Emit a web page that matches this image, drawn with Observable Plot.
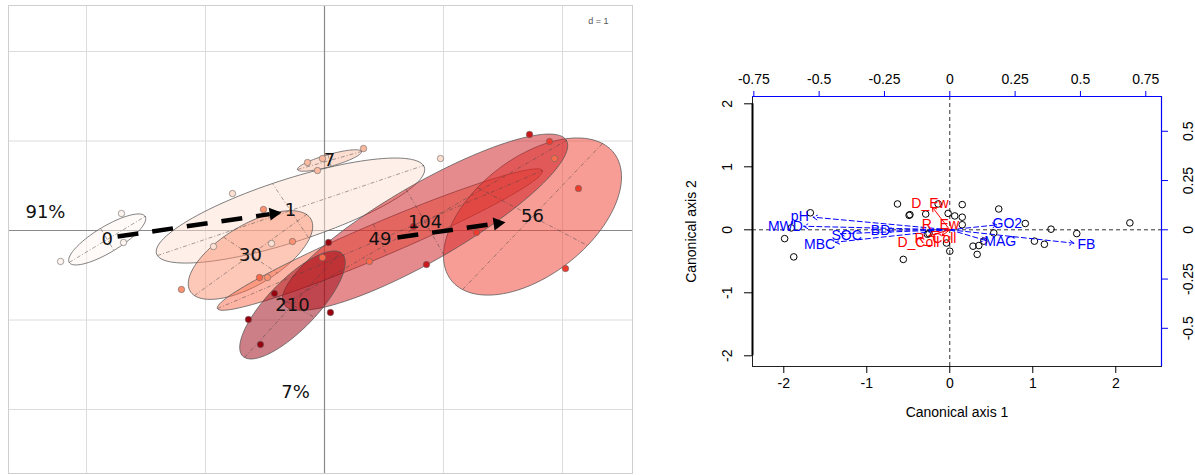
<!DOCTYPE html>
<html><head><meta charset="utf-8">
<script src="https://cdn.jsdelivr.net/npm/d3@7"></script>
<script src="https://cdn.jsdelivr.net/npm/@observablehq/plot@0.6"></script>
<style>
body{margin:0;background:#fff;}
#wrap{position:relative;width:1195px;height:475px;overflow:hidden;background:#fff;}
#wrap svg{position:absolute;top:0;}
</style></head><body><div id="wrap"></div>
<script>
// ---------- LEFT PANEL DATA (ade4 s.class, d = 1) ----------
const groups      = ["0","1","7","30","49","56","104","210"];
const groupColors = ["#fff5f0","#fee0d2","#fcbba1","#fc9272","#fb6a4a","#ef3b2c","#cb181d","#99000d"];
// ellipse centre, half-axis a, half-axis b (data units)
const ellCx = [-1.826,-0.286, 0.042,-0.622, 0.466, 1.748, 0.845,-0.269];
const ellCy = [-0.100, 0.223, 0.782,-0.274,-0.101, 0.156, 0.093,-0.832];
const ellAx = [ 0.319, 1.118, 0.269, 0.471, 1.366, 0.588, 1.188, 0.403];
const ellAy = [ 0.257, 0.503, 0.101, 0.453, 0.771, 0.816, 0.913, 0.587];
const ellBx = [ 0.056,-0.151, 0.013, 0.227, 0.055, 0.462, 0.160, 0.185];
const ellBy = [-0.123, 0.302,-0.065,-0.201,-0.174,-0.324,-0.369,-0.140];
// sample points
const siteGroup = ["0","0","0","1","1","1","1","7","7","7","7","30","30","30","30","49","49","49","49","56","56","56","56","104","104","104","210","210","210","210","210"];
const siteX = [-1.706,-1.689,-2.218,-0.773,0.975,-0.445,-0.933,-0.143,-0.017,-0.059,0.328,-0.513,-0.269,-1.202,-0.479,-0.546,-0.017,0.378,1.933,1.891,2.134,2.025,1.277,1.723,0.857,0.748,0.034,-0.420,0.050,-0.639,-0.538];
const siteY = [0.190,-0.134,-0.346,0.413,0.804,-0.145,-0.179,0.760,0.804,0.670,0.916,0.235,-0.123,-0.659,-0.525,-0.525,-0.302,-0.346,0.804,0.994,0.469,-0.425,-0.022,1.073,-0.380,0.045,-0.134,-0.704,-0.916,-0.994,-1.274];
// trajectory arrows
const arrowFromX = [-1.739, 0.613];
const arrowFromY = [-0.067,-0.078];
const arrowToX   = [-0.311, 1.571];
const arrowToY   = [ 0.212, 0.101];
// axis percentages
const pctText = ["91%","7%"];
const pctX = [-2.345,-0.244];
const pctY = [ 0.201,-1.810];
const gridTicks = [-2,-1,0,1,2];

// ---------- RIGHT PANEL DATA (canonical biplot) ----------
const scoreX = [-1.68,-1.91,-1.99,-1.88,-0.63,-0.49,-0.48,-0.29,-0.27,-0.25,-0.56,-0.14,-0.02,0.06,0.15,0.15,0.15,-0.04,0.00,0.59,0.91,0.53,0.28,0.35,0.41,0.33,1.02,1.14,1.22,1.53,2.17];
const scoreY = [0.27,0.03,-0.14,-0.43,0.41,0.23,0.24,0.25,-0.07,-0.06,-0.47,0.41,0.26,0.22,0.40,0.20,0.08,-0.21,-0.34,0.33,0.10,-0.05,-0.26,-0.25,-0.18,-0.39,-0.18,-0.23,0.01,-0.06,0.11];
const bioNames = ["pH","MWD","SOC","MBC","BD","GO2","MAG","FB"];
const bioTipX  = [-0.523,-0.559,-0.420,-0.438,-0.240,0.180,0.137,0.475];
const bioTipY  = [ 0.064, 0.018,-0.020,-0.063,-0.002,0.025,-0.054,-0.068];
const bioLabX  = [-0.574,-0.629,-0.395,-0.498,-0.265,0.220,0.193,0.523];
const bioLabY  = [ 0.068, 0.018,-0.029,-0.075,-0.004,0.030,-0.059,-0.075];
const envNames = ["D_Ew","R_Ew","D_Coll","R_Coll"];
const envTipX  = [-0.067,-0.020,-0.080,-0.030];
const envTipY  = [ 0.115, 0.005,-0.030,-0.030];
const envLabX  = [-0.076,-0.036,-0.120,-0.055];
const envLabY  = [ 0.132, 0.025,-0.063,-0.046];
const axis1Ticks = [-2,-1,0,1,2];
const axis2Ticks = [-2,-1,0,1,2];
const topTicks = [-0.75,-0.5,-0.25,0,0.25,0.5,0.75];
const rightTicks = [-0.5,-0.25,0,0.25,0.5];

// ================= LEFT PANEL =================
const L = {w:640,h:475,ml:8,mr:8,mt:5,mb:2};
const xDomL = [-2.6555, 2.5882], yDomL = [-2.715, 2.514];
const kx = (L.w-L.ml-L.mr)/(xDomL[1]-xDomL[0]);
const ky = (L.h-L.mt-L.mb)/(yDomL[1]-yDomL[0]);

const ells = groups.map((g,i)=>({g, color:groupColors[i], cx:ellCx[i], cy:ellCy[i], ax:ellAx[i], ay:ellAy[i], bx:ellBx[i], by:ellBy[i]}));
const ellPts = e => d3.range(0,121).map(k=>{const t=2*Math.PI*k/120; return {x:e.cx+e.ax*Math.cos(t)+e.bx*Math.sin(t), y:e.cy+e.ay*Math.cos(t)+e.by*Math.sin(t)};});
const sites = siteX.map((x,i)=>({x, y:siteY[i], color:groupColors[groups.indexOf(siteGroup[i])]}));
const arrows = arrowFromX.map((x,i)=>{
  const dx=arrowToX[i]-x, dy=arrowToY[i]-arrowFromY[i];
  const sx=dx*kx, sy=-dy*ky, len=Math.hypot(sx,sy), head=18;
  const f=head/len;
  return {x1:x, y1:arrowFromY[i], bx:arrowToX[i]-f*dx, by:arrowToY[i]-f*dy,
          rot: Math.atan2(sx, -sy)*180/Math.PI, head};
});
const pcts = pctText.map((t,i)=>({t, x:pctX[i], y:pctY[i]}));
const headShape = {draw(ctx,l,r){ctx.moveTo(-r,0);ctx.lineTo(0,-l);ctx.lineTo(r,0);ctx.closePath();}};

const left = Plot.plot({
  width:L.w, height:L.h, marginLeft:L.ml, marginRight:L.mr, marginTop:L.mt, marginBottom:L.mb,
  x:{domain:xDomL, axis:null}, y:{domain:yDomL, axis:null},
  style:{fontFamily:"DejaVu Sans, sans-serif", background:"#fff"},
  marks:[
    Plot.ruleX(gridTicks, {stroke:"#dcdcdc", strokeWidth:1}),
    Plot.ruleY(gridTicks, {stroke:"#dcdcdc", strokeWidth:1}),
    Plot.ruleX([0], {stroke:"#8a8a8a", strokeWidth:1.2}),
    Plot.ruleY([0], {stroke:"#8a8a8a", strokeWidth:1.2}),
    Plot.frame({stroke:"#cfcfcf"}),
    ...ells.map(e=>Plot.line(ellPts(e), {x:"x", y:"y", curve:"linear-closed", fill:e.color, fillOpacity:0.5, stroke:"#555", strokeOpacity:0.75, strokeWidth:1})),
    Plot.link(ells, {x1:d=>d.cx-d.ax, y1:d=>d.cy-d.ay, x2:d=>d.cx+d.ax, y2:d=>d.cy+d.ay, stroke:"#444", strokeOpacity:0.7, strokeWidth:0.7, strokeDasharray:"4,2,1,2"}),
    Plot.link(ells, {x1:d=>d.cx-d.bx, y1:d=>d.cy-d.by, x2:d=>d.cx+d.bx, y2:d=>d.cy+d.by, stroke:"#444", strokeOpacity:0.7, strokeWidth:0.7, strokeDasharray:"4,2,1,2"}),
    Plot.dot(sites, {x:"x", y:"y", r:3.2, fill:"color", stroke:"#666", strokeWidth:0.6}),
    Plot.text(ells, {x:"cx", y:"cy", text:"g", fontSize:18, fill:"#111"}),
    Plot.text(pcts, {x:"x", y:"y", text:"t", fontSize:18, fill:"#111"}),
    Plot.text(["d = 1"], {frameAnchor:"top-right", dx:-24, dy:12, fontSize:9, fill:"#555", fontFamily:"Liberation Sans, Arial, sans-serif"}),
    Plot.link(arrows, {x1:"x1", y1:"y1", x2:"bx", y2:"by", stroke:"#000", strokeWidth:4.5, strokeDasharray:"21,14", strokeLinecap:"butt"}),
    Plot.vector(arrows, {x:"bx", y:"by", length:"head", rotate:"rot", anchor:"start", r:6.5, shape:headShape, fill:"#000", stroke:"none"})
  ]
});
left.style.left = "0px";
document.getElementById("wrap").appendChild(left);

// ================= RIGHT PANEL =================
const R = {w:515,h:475,ml:72,mr:34,mt:96,mb:109};
const xDom1 = [-2.377, 2.551], yDom1 = [-2.170, 2.116];
const xDom2 = [-0.7551, 0.8102], yDom2 = [-0.6939, 0.6766];
const scores = scoreX.map((x,i)=>({x, y:scoreY[i]}));
const bio = bioNames.map((n,i)=>({n, tx:bioTipX[i], ty:bioTipY[i], lx:bioLabX[i], ly:bioLabY[i]}));
const env = envNames.map((n,i)=>({n, tx:envTipX[i], ty:envTipY[i], lx:envLabX[i], ly:envLabY[i]}));
const fmt = d=>String(d);
const rStyle = {fontFamily:"Liberation Sans, Arial, sans-serif", background:"transparent", overflow:"visible"};

const right1 = Plot.plot({
  width:R.w, height:R.h, marginLeft:R.ml, marginRight:R.mr, marginTop:R.mt, marginBottom:R.mb,
  x:{domain:xDom1}, y:{domain:yDom1},
  style:rStyle,
  marks:[
    Plot.frame({stroke:"#222"}),
    Plot.ruleY([0], {stroke:"#333", strokeDasharray:"4,3"}),
    Plot.ruleX([0], {stroke:"#333", strokeDasharray:"4,3"}),
    Plot.ruleX([xDom1[0]], {y1:axis2Ticks[0], y2:axis2Ticks[axis2Ticks.length-1], stroke:"#000", strokeWidth:2}),
    Plot.dot(scores, {x:"x", y:"y", r:3.3, stroke:"#000", strokeWidth:1, fill:"none"}),
    Plot.axisX({ticks:axis1Ticks, anchor:"bottom", tickSize:7, tickPadding:5, fontSize:14, tickFormat:fmt, stroke:"#000",
      label:"Canonical axis 1", labelAnchor:"center", labelOffset:50, labelArrow:"none"}),
    Plot.axisY({ticks:axis2Ticks, anchor:"left", tickSize:8, tickPadding:13, tickRotate:-90, fontSize:14, tickFormat:fmt, stroke:"#000",
      label:"Canonical axis 2", labelAnchor:"center", labelOffset:66, labelArrow:"none"})
  ]
});
right1.style.left = "680px";
document.getElementById("wrap").appendChild(right1);

const right2 = Plot.plot({
  width:R.w, height:R.h, marginLeft:R.ml, marginRight:R.mr, marginTop:R.mt, marginBottom:R.mb,
  x:{domain:xDom2}, y:{domain:yDom2},
  style:rStyle,
  marks:[
    Plot.ruleY([yDom2[1]], {stroke:"blue", strokeWidth:1.2}),
    Plot.ruleX([xDom2[1]], {stroke:"blue", strokeWidth:1.2}),
    Plot.axisX({ticks:topTicks, anchor:"top", tickSize:6, tickPadding:7, fontSize:14, tickFormat:fmt, stroke:"blue", fill:"#000", label:null}),
    Plot.axisY({ticks:rightTicks, anchor:"right", tickSize:6, tickPadding:25, tickRotate:-90, fontSize:14, tickFormat:fmt, stroke:"blue", fill:"#000", label:null}),
    Plot.arrow(bio, {x1:d=>0, y1:d=>0, x2:"tx", y2:"ty", stroke:"blue", strokeWidth:1, strokeDasharray:"5,3", headLength:7}),
    Plot.arrow(env, {x1:d=>0, y1:d=>0, x2:"tx", y2:"ty", stroke:"red", strokeWidth:1, headLength:7}),
    Plot.text(bio, {x:"lx", y:"ly", text:"n", fill:"blue", fontSize:14}),
    Plot.text(env, {x:"lx", y:"ly", text:"n", fill:"red", fontSize:14})
  ]
});
right2.style.left = "680px";
document.getElementById("wrap").appendChild(right2);
</script></body></html>
